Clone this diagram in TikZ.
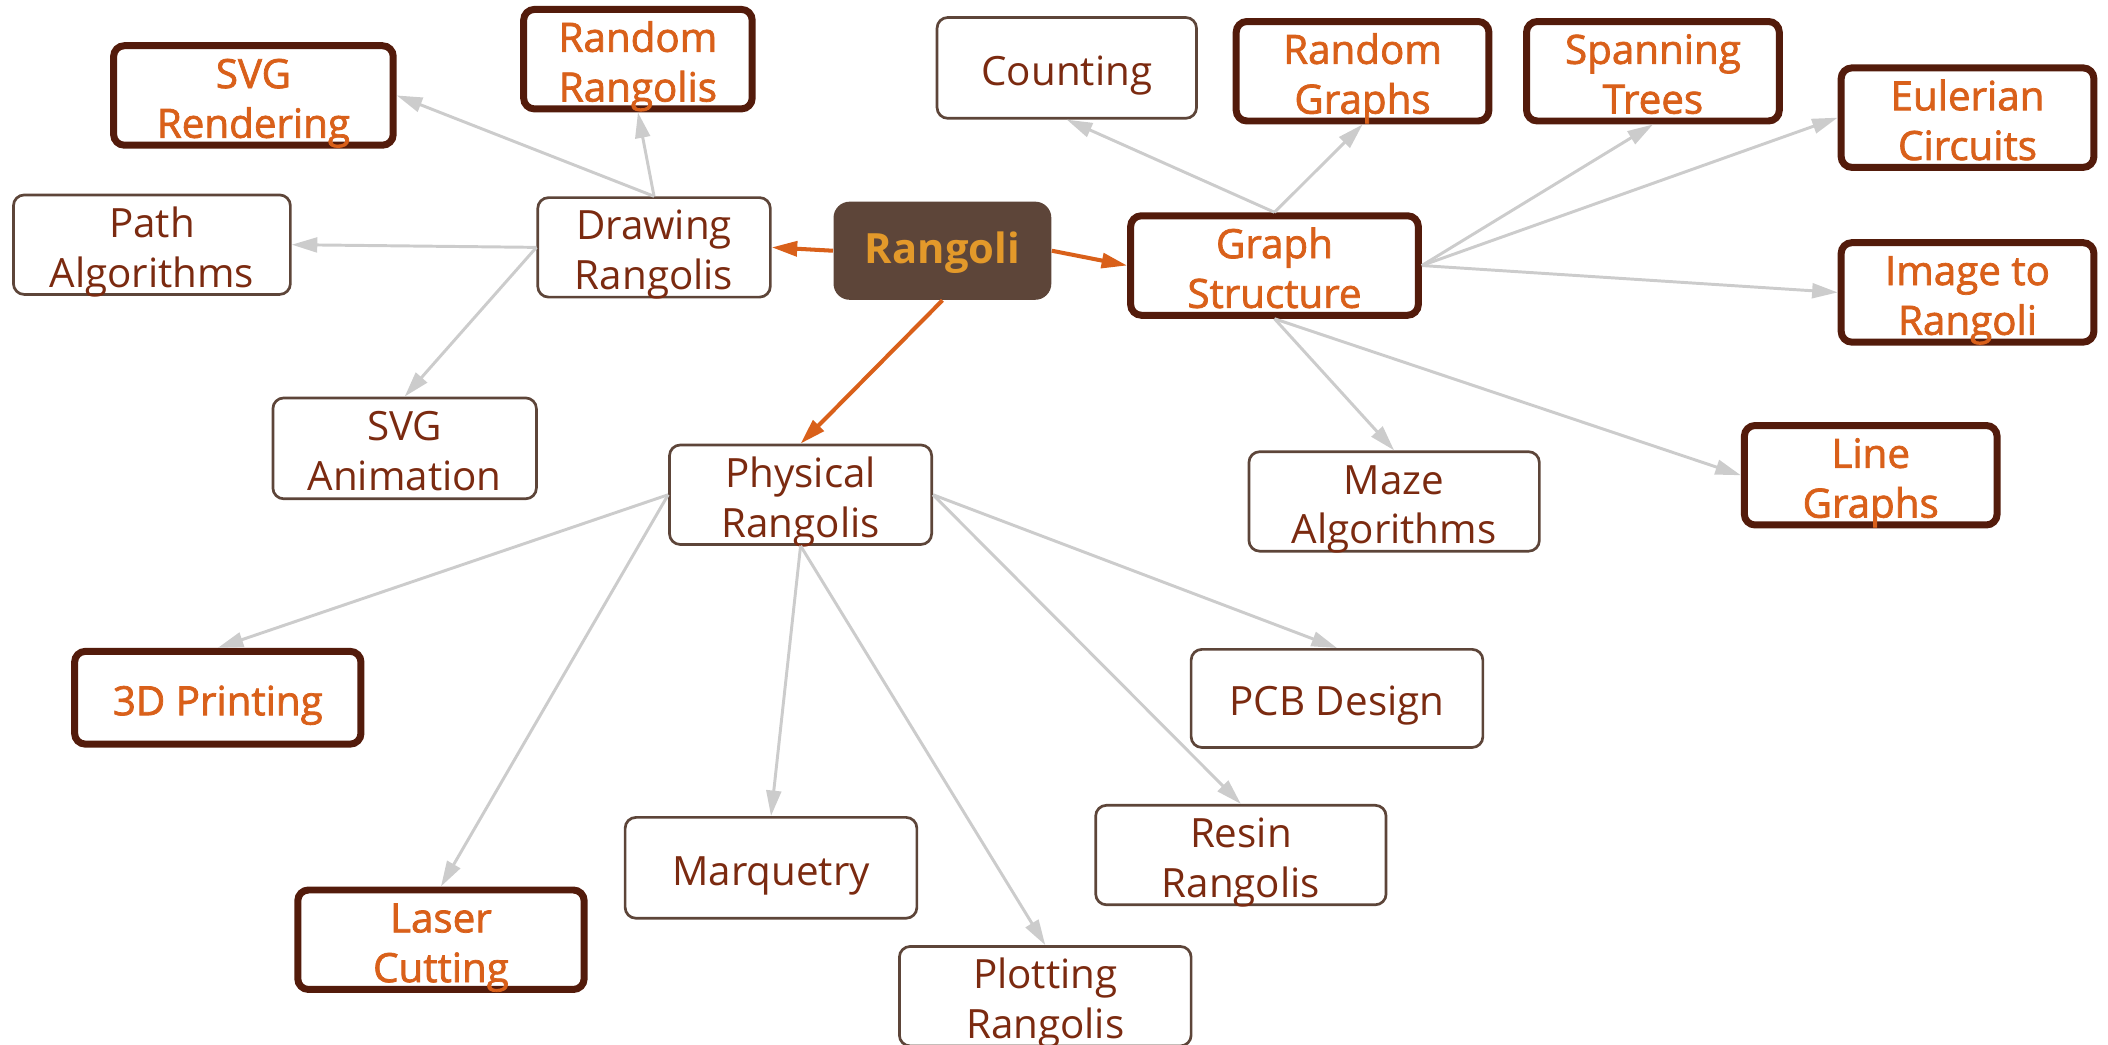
\documentclass[tikz,border=0pt]{standalone}
\usepackage{fontspec}
\setmainfont{Open Sans}
\newfontfamily\semibfont[FakeBold=1.8]{Open Sans}
\usetikzlibrary{arrows.meta}
\definecolor{thinb}{HTML}{5D4539}
\definecolor{thickb}{HTML}{531B0B}
\definecolor{thintx}{HTML}{7B2A10}
\definecolor{orangetx}{HTML}{D9601A}
\definecolor{rootfill}{HTML}{5D4539}
\definecolor{roottx}{HTML}{E3992A}
\definecolor{edgegray}{HTML}{CCCCCC}
\newcommand\nodetext[2][-2.8pt]{\raisebox{#1}[\height][\depth]{\begin{tabular}{@{}c@{}}#2\end{tabular}}}
\tikzset{
  base/.style={rectangle, rounded corners=4pt, fill=white,
    inner sep=0pt, font=\fontsize{15}{18.5}\selectfont},
  thinbox/.style={base, draw=thinb, line width=1pt, text=thintx},
  thickbox/.style={base, draw=thickb, line width=2.6pt, text=orangetx,
    font=\fontsize{15}{18.5}\selectfont\semibfont},
  rootbox/.style={base, fill=rootfill, draw=none, rounded corners=6pt, text=roottx,
    font=\fontsize{15.5}{18.5}\selectfont\bfseries},
  gedge/.style={draw=edgegray, line width=1.1pt, -{Triangle[length=9.5pt,width=5.5pt]}},
  oedge/.style={draw=orangetx, line width=1.5pt, -{Triangle[length=9.5pt,width=5.5pt]}},
}
\begin{document}
\begin{tikzpicture}[x=0.5pt,y=-0.5pt]
\useasboundingbox (0,0) rectangle (1568,777);
% nodes
\node[rootbox, minimum width=81pt, minimum height=36.5pt] (root) at (701,186.5) {\nodetext[-1.2pt]{Rangoli}};
\node[thinbox, minimum width=86.5pt, minimum height=37pt] (draw) at (486.5,184) {\nodetext{Drawing\\Rangolis}};
\node[thickbox, minimum width=107pt, minimum height=35.5pt] (graph) at (948,197.5) {\nodetext{Graph\\Structure}};
\node[thinbox, minimum width=97.5pt, minimum height=37pt] (phys) at (595.5,368) {\nodetext{Physical\\Rangolis}};
\node[thickbox, minimum width=104pt, minimum height=34.5pt] (svgr) at (188.5,71) {\nodetext{SVG\\Rendering}};
\node[thickbox, minimum width=85pt, minimum height=34.5pt] (randr) at (474.5,44) {\nodetext{Random\\Rangolis}};
\node[thinbox, minimum width=103pt, minimum height=37pt] (path) at (113,182) {\nodetext{Path\\Algorithms}};
\node[thinbox, minimum width=98pt, minimum height=37.5pt] (svga) at (301,333.5) {\nodetext{SVG\\Animation}};
\node[thinbox, minimum width=96.5pt, minimum height=37.5pt] (count) at (793.5,50.5) {\nodetext{Counting}};
\node[thickbox, minimum width=94pt, minimum height=34.5pt] (randg) at (1013.5,53) {\nodetext{Random\\Graphs}};
\node[thickbox, minimum width=94pt, minimum height=34.5pt] (span) at (1229.5,53) {\nodetext{Spanning\\Trees}};
\node[thickbox, minimum width=94pt, minimum height=35pt] (euler) at (1463.5,87.5) {\nodetext{Eulerian\\Circuits}};
\node[thickbox, minimum width=94pt, minimum height=35pt] (image) at (1463.5,217.5) {\nodetext{Image to\\Rangoli}};
\node[thickbox, minimum width=94pt, minimum height=34pt] (line) at (1391.5,353.5) {\nodetext{Line\\Graphs}};
\node[thinbox, minimum width=108pt, minimum height=37pt] (maze) at (1037,373) {\nodetext{Maze\\Algorithms}};
\node[thickbox, minimum width=106.5pt, minimum height=34.5pt] (print) at (162,519) {\nodetext{3D Printing}};
\node[thickbox, minimum width=106.5pt, minimum height=35.5pt] (laser) at (328,699) {\nodetext{Laser\\Cutting}};
\node[thinbox, minimum width=108.5pt, minimum height=37.5pt] (marq) at (573.5,645.5) {\nodetext{Marquetry}};
\node[thinbox, minimum width=108.5pt, minimum height=37pt] (plot) at (777.5,741) {\nodetext{Plotting\\Rangolis}};
\node[thinbox, minimum width=108.5pt, minimum height=36.5pt] (pcb) at (994.5,519.5) {\nodetext{PCB Design}};
\node[thinbox, minimum width=108pt, minimum height=37pt] (resin) at (923,636) {\nodetext{Resin\\Rangolis}};
% edges
\draw[oedge] (root.west) -- (draw.east);
\draw[oedge] (root.east) -- (graph.west);
\draw[oedge] (root.south) -- (phys.north);
\draw[gedge] (draw.north) -- (svgr.east);
\draw[gedge] (draw.north) -- (randr.south);
\draw[gedge] (draw.west) -- (path.east);
\draw[gedge] (draw.west) -- (svga.north);
\draw[gedge] (graph.north) -- (count.south);
\draw[gedge] (graph.north) -- (randg.south);
\draw[gedge] (graph.east) -- (span.south);
\draw[gedge] (graph.east) -- (euler.west);
\draw[gedge] (graph.east) -- (image.west);
\draw[gedge] (graph.south) -- (maze.north);
\draw[gedge] (graph.south) -- (line.west);
\draw[gedge] (phys.west) -- (print.north);
\draw[gedge] (phys.west) -- (laser.north);
\draw[gedge] (phys.south) -- (marq.north);
\draw[gedge] (phys.south) -- (plot.north);
\draw[gedge] (phys.east) -- (pcb.north);
\draw[gedge] (phys.east) -- (resin.north);
\end{tikzpicture}
\end{document}
